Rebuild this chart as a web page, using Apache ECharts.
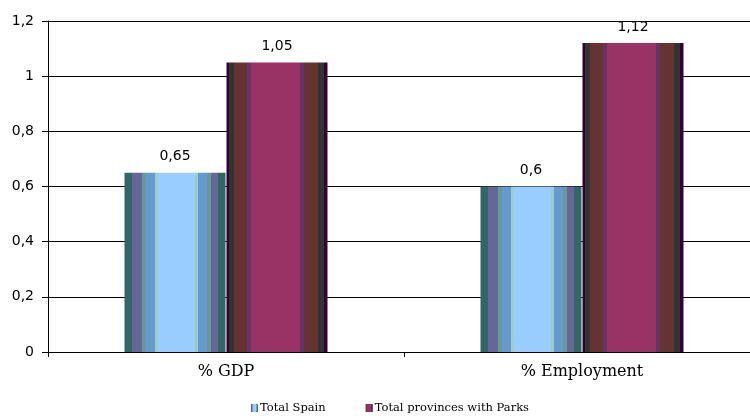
<!DOCTYPE html>
<html>
<head>
<meta charset="utf-8">
<script src="https://cdn.jsdelivr.net/npm/echarts@6/dist/echarts.min.js"></script>
<style>html,body{margin:0;padding:0;background:#fff;overflow:hidden}#c{width:762px;height:416px}</style>
</head>
<body>
<div id="c"></div>
<script>
const categories = ['% GDP', '% Employment'];
const seriesNames = ['Total Spain', 'Total provinces with Parks'];
const spainValues = [0.65, 0.6];
const parksValues = [1.05, 1.12];
const yTicks = [0, 0.2, 0.4, 0.6, 0.8, 1, 1.2];

function stripes(list) {
  const stops = [];
  list.forEach(([a, b, c]) => { stops.push({offset: a, color: c}); stops.push({offset: b, color: c}); });
  return {type: 'linear', x: 0, y: 0, x2: 1, y2: 0, colorStops: stops};
}
const blueGrad = stripes([
  [0, 0.07, '#336666'], [0.07, 0.17, '#666699'], [0.17, 0.21, '#669999'],
  [0.21, 0.30, '#6699cc'], [0.30, 0.33, '#99cccc'], [0.33, 0.70, '#99ccff'],
  [0.70, 0.73, '#99cccc'], [0.73, 0.82, '#6699cc'], [0.82, 0.86, '#669999'],
  [0.86, 0.93, '#666699'], [0.93, 1, '#336666']
]);
const maroonGrad = stripes([
  [0, 0.02, '#330033'], [0.02, 0.07, '#333333'], [0.07, 0.20, '#663333'],
  [0.20, 0.24, '#663366'], [0.24, 0.73, '#993366'], [0.73, 0.77, '#663366'],
  [0.77, 0.91, '#663333'], [0.91, 0.97, '#333333'], [0.97, 1, '#330033']
]);
const fmt = v => String(v).replace('.', ',');

const chart = echarts.init(document.getElementById('c'));
chart.setOption({
  animation: false,
  backgroundColor: '#fff',
  grid: {left: 48, right: 2, top: 21, bottom: 64, containLabel: false},
  legend: {
    top: 397, left: 246,
    itemWidth: 7, itemHeight: 8, itemGap: 40,
    icon: 'rect',
    textStyle: {fontFamily: 'DejaVu Serif', fontSize: 11.5, color: '#000', padding: [0, 0, 0, -3]},
    data: seriesNames
  },
  xAxis: {
    type: 'category',
    data: categories,
    axisLine: {lineStyle: {color: '#000', width: 1}},
    axisTick: {show: true, length: 5, lineStyle: {color: '#000'}},
    axisLabel: {fontFamily: 'DejaVu Serif', fontSize: 16, color: '#000', margin: 12}
  },
  yAxis: {
    type: 'value', min: 0, max: 1.2, interval: 0.2,
    axisLine: {show: true, lineStyle: {color: '#000', width: 1}},
    axisTick: {show: true, length: 6, lineStyle: {color: '#000'}},
    splitLine: {show: true, lineStyle: {color: '#000', width: 1}},
    axisLabel: {fontFamily: 'DejaVu Sans', fontSize: 14, color: '#000', margin: 14,
      formatter: v => yTicks.includes(+v.toFixed(1)) ? fmt(+v.toFixed(1)) : ''}
  },
  series: [
    {
      name: seriesNames[0], type: 'bar', data: spainValues,
      barWidth: 101, barGap: '1%',
      itemStyle: {color: blueGrad},
      label: {show: true, position: 'top', distance: 9, fontFamily: 'DejaVu Sans', fontSize: 14, color: '#000', formatter: p => fmt(p.value)}
    },
    {
      name: seriesNames[1], type: 'bar', data: parksValues,
      barWidth: 101,
      itemStyle: {color: maroonGrad},
      label: {show: true, position: 'top', distance: 9, fontFamily: 'DejaVu Sans', fontSize: 14, color: '#000', formatter: p => fmt(p.value)}
    }
  ]
});
</script>
</body>
</html>
